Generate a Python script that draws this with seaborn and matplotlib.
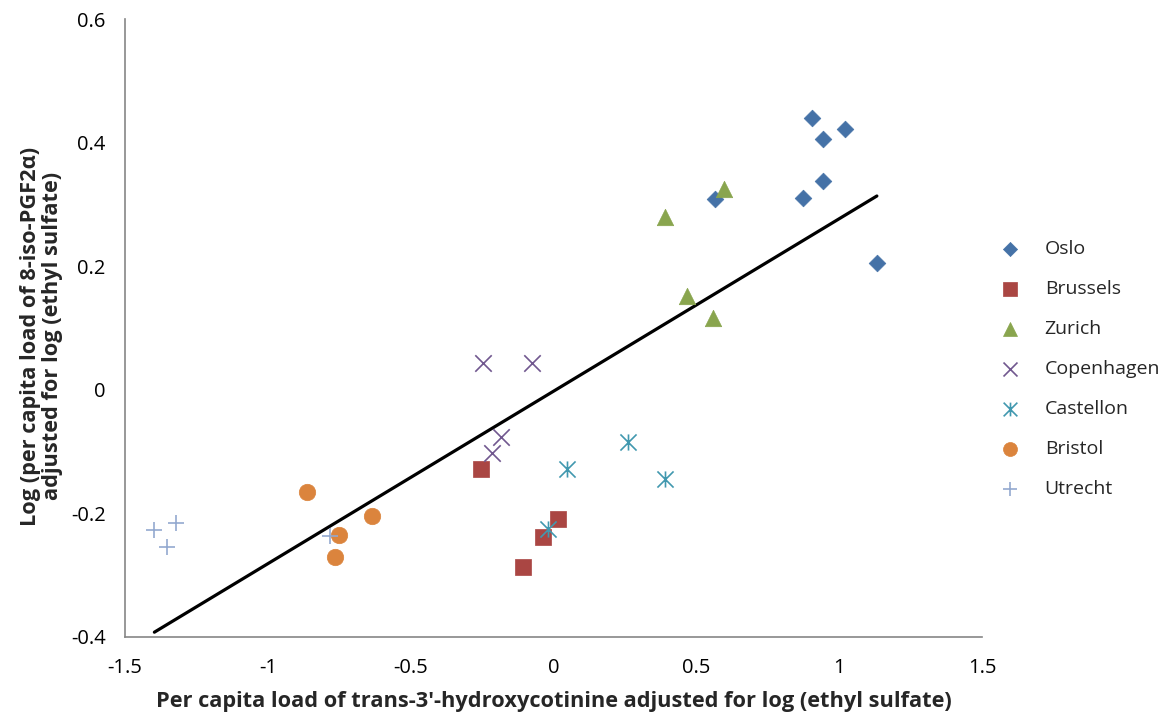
import seaborn as sns
import matplotlib.pyplot as plt
from matplotlib.path import Path

# data
cities = ['Oslo', 'Brussels', 'Zurich', 'Copenhagen', 'Castellon', 'Bristol', 'Utrecht']

oslo_x = [0.905, 1.020, 0.943, 0.943, 0.873, 0.565, 1.132]
oslo_y = [0.440, 0.422, 0.406, 0.338, 0.310, 0.309, 0.205]
brussels_x = [-0.255, 0.017, -0.036, -0.108]
brussels_y = [-0.128, -0.209, -0.238, -0.286]
zurich_x = [0.596, 0.390, 0.467, 0.557]
zurich_y = [0.325, 0.280, 0.151, 0.116]
copenhagen_x = [-0.247, -0.076, -0.184, -0.216]
copenhagen_y = [0.043, 0.043, -0.076, -0.102]
castellon_x = [0.262, 0.047, 0.390, -0.018]
castellon_y = [-0.085, -0.128, -0.145, -0.226]
bristol_x = [-0.864, -0.636, -0.750, -0.764]
bristol_y = [-0.166, -0.204, -0.235, -0.271]
utrecht_x = [-1.397, -1.320, -1.354, -0.782]
utrecht_y = [-0.227, -0.215, -0.255, -0.237]

x_ticks = [-1.5, -1, -0.5, 0, 0.5, 1, 1.5]
x_ticklabels = ['-1.5', '-1', '-0.5', '0', '0.5', '1', '1.5']
y_ticks = [-0.4, -0.2, 0, 0.2, 0.4, 0.6]
y_ticklabels = ['-0.4', '-0.2', '0', '0.2', '0.4', '0.6']

xs = [oslo_x, brussels_x, zurich_x, copenhagen_x, castellon_x, bristol_x, utrecht_x]
ys = [oslo_y, brussels_y, zurich_y, copenhagen_y, castellon_y, bristol_y, utrecht_y]

colors = ['#4572A7', '#AA4643', '#89A54E', '#71588F', '#4198AF', '#DB843D', '#93A9CF']

# excel style asterisk: vertical bar plus an x
star = Path([(0, -1), (0, 1), (-1, -1), (1, 1), (-1, 1), (1, -1)],
            [Path.MOVETO, Path.LINETO, Path.MOVETO, Path.LINETO, Path.MOVETO, Path.LINETO])
markers = ['D', 's', '^', 'x', star, 'o', '+']
sizes = [72, 130, 140, 140, 135, 140, 125]
line_art = [False, False, False, True, True, False, True]

sns.set_style('white')
plt.rcParams['font.family'] = ['Open Sans', 'DejaVu Sans']

fig = plt.figure(figsize=(11.71, 7.2), dpi=100)
ax = fig.add_axes([0.1067, 0.1153, 0.7319, 0.8583])

# trend line over all points
all_x = [v for grp in xs for v in grp]
all_y = [v for grp in ys for v in grp]
sns.regplot(x=all_x, y=all_y, scatter=False, ci=None, color='black',
            line_kws={'linewidth': 2.3}, ax=ax)

for city, x, y, c, m, s, la in zip(cities, xs, ys, colors, markers, sizes, line_art):
    if la:
        sns.scatterplot(x=x, y=y, marker=m, s=s, color=c, edgecolor=c,
                        linewidth=1.2, label=city, ax=ax, zorder=3)
    else:
        sns.scatterplot(x=x, y=y, marker=m, s=s, color=c, edgecolor=c,
                        linewidth=0.5, label=city, ax=ax, zorder=3)

ax.set_xlim(-1.5, 1.5)
ax.set_ylim(-0.4, 0.6)
ax.set_xticks(x_ticks)
ax.set_xticklabels(x_ticklabels)
ax.set_yticks(y_ticks)
ax.set_yticklabels(y_ticklabels)

for side in ['top', 'right']:
    ax.spines[side].set_visible(False)
for side in ['left', 'bottom']:
    ax.spines[side].set_color('#868686')
    ax.spines[side].set_linewidth(1.2)
ax.tick_params(axis='both', direction='out', length=6, width=1.2, color='#868686',
               labelsize=14.5, labelcolor='black')
ax.tick_params(axis='x', pad=9)
ax.tick_params(axis='y', pad=8)

ax.set_xlabel("Per capita load of trans-3'-hydroxycotinine adjusted for log (ethyl sulfate)",
              fontsize=15.7, fontweight='bold', va='top')
ax.xaxis.set_label_coords(0.5, -0.088)
ax.set_ylabel('Log (per capita load of 8-iso-PGF2\u03b1)\nadjusted for log (ethyl sulfate)',
              fontsize=15.7, fontweight='bold', linespacing=1.05)
ax.yaxis.set_label_coords(-0.072, 0.487)

ax.legend(frameon=False, fontsize=14, loc='center left',
          bbox_to_anchor=(1000 / 1171, 0.4875), bbox_transform=fig.transFigure,
          borderpad=0, borderaxespad=0, handlelength=1.0, handletextpad=1.3,
          labelspacing=1.13, markerscale=0.85)

fig.savefig('out.png', dpi=100)
